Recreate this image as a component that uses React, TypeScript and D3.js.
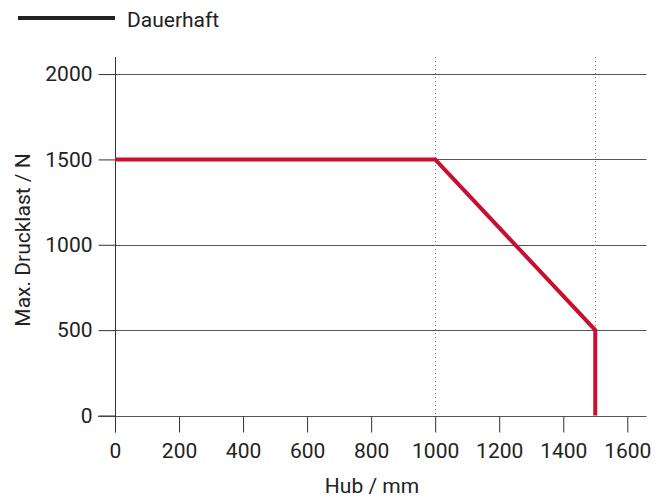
import { useRef, useEffect } from 'react'
import * as d3 from 'd3'

const hub = [0, 1000, 1500, 1500]
const drucklast = [1500, 1500, 500, 0]
const xTicks = [0, 200, 400, 600, 800, 1000, 1200, 1400, 1600]
const yTicks = [0, 500, 1000, 1500, 2000]
const xDotted = [1000, 1500]
const seriesLabel = 'Dauerhaft'

const App = () => {
  const svgRef = useRef<SVGSVGElement>(null)

  useEffect(() => {
    if (!svgRef.current) return
    const width = 655
    const height = 500
    const margin = { top: 57, left: 115 }

    const svg = d3.select(svgRef.current)
    svg.selectAll('*').remove()
    svg.attr('width', width).attr('height', height)

    const font = 'Roboto, sans-serif'
    const fs = 21
    const x = d3.scaleLinear().domain([0, 1660]).range([margin.left, 646.5])
    const y = d3.scaleLinear().domain([0, 2100]).range([415.5, margin.top])

    // horizontal grid
    svg.append('g')
      .selectAll('line')
      .data(yTicks.filter(d => d > 0))
      .join('line')
      .attr('x1', x(0)).attr('x2', x(1660))
      .attr('y1', d => Math.round(y(d)) + 0.5).attr('y2', d => Math.round(y(d)) + 0.5)
      .attr('stroke', '#555').attr('stroke-width', 1)

    // dotted verticals
    svg.append('g')
      .selectAll('line')
      .data(xDotted)
      .join('line')
      .attr('x1', d => Math.round(x(d)) + 0.5).attr('x2', d => Math.round(x(d)) + 0.5)
      .attr('y1', y(2100)).attr('y2', y(0))
      .attr('stroke', '#777').attr('stroke-width', 1)
      .attr('stroke-dasharray', '1,3')

    // x axis
    const xAxis = svg.append('g')
      .attr('transform', `translate(0,${Math.round(y(0)) + 0.5})`)
      .call(d3.axisBottom(x).tickValues(xTicks).tickSize(16).tickPadding(11).tickFormat(d3.format('d')))
    xAxis.select('.domain').attr('stroke', '#555').attr('d', `M${x(0) - 17},0H${x(1660)}`)
    xAxis.selectAll('.tick line').attr('stroke', '#333')
    xAxis.selectAll('text').attr('fill', '#222').attr('font-size', fs).attr('font-family', font)

    // y axis
    const yAxis = svg.append('g')
      .attr('transform', `translate(${Math.round(x(0)) + 0.5},0)`)
      .call(d3.axisLeft(y).tickValues(yTicks).tickSize(17).tickPadding(6).tickFormat(d3.format('d')))
    yAxis.select('.domain').attr('stroke', '#333').attr('d', `M0,${y(2100)}V${y(0) + 17}`)
    yAxis.selectAll('.tick line').attr('stroke', '#333')
    yAxis.selectAll('text').attr('fill', '#222').attr('font-size', fs).attr('font-family', font)

    // series
    const pts = hub.map((h, i) => [h, drucklast[i]] as [number, number])
    const line = d3.line<[number, number]>().x(d => x(d[0])).y(d => y(d[1]))
    svg.append('path')
      .datum(pts)
      .attr('fill', 'none')
      .attr('stroke', '#c8102e')
      .attr('stroke-width', 4)
      .attr('stroke-linejoin', 'miter')
      .attr('d', line)

    // axis titles
    svg.append('text')
      .attr('x', 372)
      .attr('y', 493)
      .attr('text-anchor', 'middle')
      .attr('fill', '#222')
      .attr('font-size', fs)
      .attr('font-family', font)
      .text('Hub / mm')

    svg.append('text')
      .attr('transform', 'rotate(-90)')
      .attr('x', -240)
      .attr('y', 30)
      .attr('text-anchor', 'middle')
      .attr('fill', '#222')
      .attr('font-size', fs)
      .attr('font-family', font)
      .text('Max. Drucklast / N')

    // legend
    svg.append('line')
      .attr('x1', 18).attr('x2', 115)
      .attr('y1', 18).attr('y2', 18)
      .attr('stroke', '#222').attr('stroke-width', 4)
    svg.append('text')
      .attr('x', 127).attr('y', 27)
      .attr('fill', '#222')
      .attr('font-size', fs)
      .attr('font-family', font)
      .text(seriesLabel)
  }, [])

  return (
    <div style={{ position: 'absolute', left: 0, top: 0 }}>
      <svg ref={svgRef} style={{ display: 'block' }} />
    </div>
  )
}

export default App
